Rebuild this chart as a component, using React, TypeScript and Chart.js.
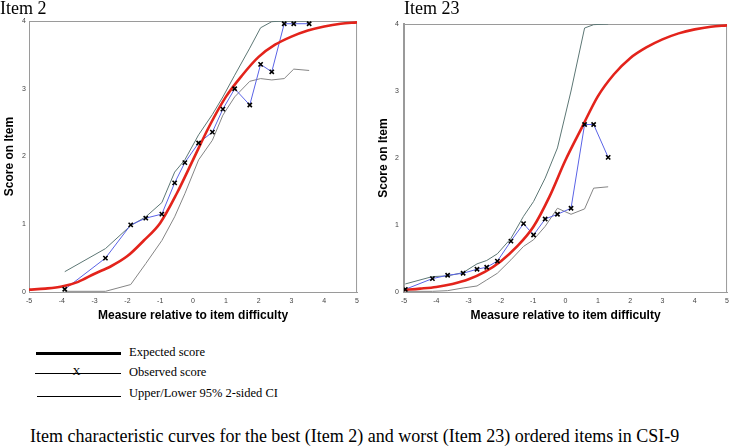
import React, { useEffect, useRef } from "react";
import { Chart, registerables } from "chart.js";

Chart.register(...registerables);

// ---- axis ticks ----
const X_TICKS = [-5, -4, -3, -2, -1, 0, 1, 2, 3, 4, 5];
const Y_TICKS = [0, 1, 2, 3, 4];

// ---- expected score curve sample points ----
const EXP_X = [-5, -4.5, -4, -3.5, -3, -2.5, -2, -1.5, -1, -0.5, 0, 0.5, 1, 1.5, 2, 2.5, 3, 3.5, 4, 4.5, 5];
const ITEM2_EXP_Y = [0.035, 0.05, 0.08, 0.15, 0.27, 0.38, 0.53, 0.76, 1.02, 1.45, 1.95, 2.45, 2.88, 3.2, 3.47, 3.65, 3.77, 3.86, 3.92, 3.96, 3.98];
const ITEM23_EXP_Y = [0.03, 0.05, 0.075, 0.12, 0.19, 0.3, 0.46, 0.68, 0.97, 1.42, 1.97, 2.45, 2.92, 3.25, 3.49, 3.65, 3.77, 3.86, 3.92, 3.96, 3.98];

// ---- Item 2 observed + CI ----
const ITEM2_OBS_X = [-3.91, -2.67, -1.9, -1.44, -0.95, -0.56, -0.25, 0.17, 0.59, 0.91, 1.27, 1.73, 2.06, 2.4, 2.78, 3.07, 3.54];
const ITEM2_OBS_Y = [0.04, 0.5, 0.99, 1.09, 1.15, 1.61, 1.91, 2.2, 2.36, 2.7, 3.0, 2.76, 3.36, 3.25, 3.96, 3.96, 3.96];
const ITEM2_UPPER_Y = [0.3, 0.64, 0.98, 1.11, 1.32, 1.77, 1.95, 2.32, 2.62, 2.88, 3.2, 3.6, 3.9, 3.99, 4.0, 4.0, 4.0];
const ITEM2_LOWER_Y = [0.01, 0.01, 0.11, 0.42, 0.76, 1.11, 1.45, 1.95, 2.24, 2.61, 2.88, 3.11, 3.15, 3.13, 3.15, 3.29, 3.27];

// ---- Item 23 observed + CI ----
const ITEM23_OBS_X = [-4.96, -4.12, -3.65, -3.17, -2.74, -2.44, -2.11, -1.69, -1.3, -0.99, -0.63, -0.25, 0.17, 0.59, 0.87, 1.32];
const ITEM23_OBS_Y = [0.04, 0.2, 0.25, 0.28, 0.34, 0.37, 0.46, 0.76, 1.02, 0.85, 1.09, 1.16, 1.25, 2.5, 2.5, 2.01];
const ITEM23_UPPER_Y = [0.12, 0.23, 0.24, 0.29, 0.42, 0.47, 0.57, 0.8, 1.13, 1.35, 1.7, 2.15, 3.0, 3.94, 3.99, 4.0];
const ITEM23_LOWER_Y = [0.01, 0.01, 0.02, 0.06, 0.09, 0.18, 0.28, 0.48, 0.68, 0.78, 0.98, 1.25, 1.16, 1.24, 1.55, 1.57];

const SANS = "'Liberation Sans', Arial, sans-serif";
const SERIF = "'Liberation Serif', 'Times New Roman', serif";

const boxPlugin = {
  id: "plotBox",
  beforeDatasetsDraw(chart: any) {
    const { ctx, chartArea } = chart;
    ctx.save();
    ctx.strokeStyle = "#9a9a9a";
    ctx.lineWidth = 1;
    ctx.beginPath();
    ctx.moveTo(chartArea.left, chartArea.top + 0.5);
    ctx.lineTo(chartArea.right - 0.5, chartArea.top + 0.5);
    ctx.lineTo(chartArea.right - 0.5, chartArea.bottom);
    ctx.stroke();
    ctx.restore();
  },
};

type Props = {
  expY: number[];
  obsX: number[];
  obsY: number[];
  upperY: number[];
  lowerY: number[];
  width: number;
  height: number;
  plotBottom: number;
  yAxisWidth: number;
  yTitlePad: number;
  yTickPad: number;
  topPad: number;
  rightPad: number;
  leftBorderWidth: number;
};

function IccChart(p: Props) {
  const ref = useRef<HTMLCanvasElement>(null);
  useEffect(() => {
    const pts = (xs: number[], ys: number[]) => xs.map((x, i) => ({ x, y: ys[i] }));
    const exp = pts(EXP_X, p.expY);
    const obs = pts(p.obsX, p.obsY);
    const up = pts(p.obsX, p.upperY);
    const low = pts(p.obsX, p.lowerY);
    const chart = new Chart(ref.current as HTMLCanvasElement, {
      type: "line",
      data: {
        datasets: [
          {
            label: "Observed markers",
            data: obs,
            showLine: false,
            pointStyle: "crossRot",
            pointRadius: 3,
            pointBorderColor: "#000",
            pointBackgroundColor: "#000",
            pointBorderWidth: 1.6,
            order: 0,
          },
          {
            label: "Expected score",
            data: exp,
            borderColor: "#e3231b",
            borderWidth: 2.6,
            pointRadius: 0,
            cubicInterpolationMode: "monotone",
            order: 1,
          },
          {
            label: "Observed score",
            data: obs,
            borderColor: "#5a63e6",
            borderWidth: 1,
            pointRadius: 0,
            order: 2,
          },
          {
            label: "Upper 95% CI",
            data: up,
            borderColor: "#5d7775",
            borderWidth: 1,
            pointRadius: 0,
            order: 3,
          },
          {
            label: "Lower 95% CI",
            data: low,
            borderColor: "#858585",
            borderWidth: 1,
            pointRadius: 0,
            order: 3,
          },
        ],
      } as any,
      options: {
        responsive: false,
        animation: false,
        devicePixelRatio: 1,
        layout: { padding: { top: p.topPad, right: p.rightPad, left: 0, bottom: 0 } },
        plugins: {
          legend: { display: false },
          tooltip: { enabled: false },
          title: { display: false },
        },
        scales: {
          x: {
            type: "linear",
            min: -5,
            max: 5,
            afterBuildTicks: (s: any) => {
              s.ticks = X_TICKS.map((v) => ({ value: v }));
            },
            afterFit: (s: any) => {
              s.height = p.height - p.plotBottom;
            },
            grid: { display: false, drawTicks: false },
            border: { display: true, color: "#9a9a9a", width: 1 },
            ticks: {
              padding: 5,
              color: "#444",
              font: { family: SANS, size: 7 },
              maxRotation: 0,
              autoSkip: false,
            },
            title: {
              display: true,
              text: "Measure relative to item difficulty",
              color: "#000",
              font: { family: SANS, size: 12, weight: "bold" },
              padding: { top: 0, bottom: 6.8 },
            },
          },
          y: {
            type: "linear",
            min: 0,
            max: 4,
            afterBuildTicks: (s: any) => {
              s.ticks = Y_TICKS.map((v) => ({ value: v }));
            },
            afterFit: (s: any) => {
              s.width = p.yAxisWidth;
            },
            grid: { display: false, drawTicks: false },
            border: { display: true, color: "#9a9a9a", width: p.leftBorderWidth },
            ticks: {
              padding: p.yTickPad,
              color: "#444",
              font: { family: SANS, size: 7 },
            },
            title: {
              display: true,
              text: "Score on Item",
              color: "#000",
              font: { family: SANS, size: 12, weight: "bold" },
              padding: { top: p.yTitlePad, bottom: 0 },
            },
          },
        },
      } as any,
      plugins: [boxPlugin],
    });
    return () => chart.destroy();
  }, []);
  return (
    <canvas
      ref={ref}
      width={p.width}
      height={p.height}
      style={{ width: p.width, height: p.height, display: "block" }}
    />
  );
}

const abs = (left: number, top: number, extra: React.CSSProperties = {}): React.CSSProperties => ({
  position: "absolute",
  left,
  top,
  whiteSpace: "nowrap",
  ...extra,
});

export default function App() {
  const titleStyle: React.CSSProperties = { fontFamily: SERIF, fontSize: 18, lineHeight: "18px", color: "#000" };
  const legendText: React.CSSProperties = { fontFamily: SERIF, fontSize: 12.5, lineHeight: "12.5px", color: "#000" };
  return (
    <div style={{ position: "absolute", left: 0, top: 0, width: 734, height: 447, background: "#fff", overflow: "hidden" }}>
      <div style={abs(0, 0)}>
        <IccChart
          expY={ITEM2_EXP_Y}
          obsX={ITEM2_OBS_X}
          obsY={ITEM2_OBS_Y}
          upperY={ITEM2_UPPER_Y}
          lowerY={ITEM2_LOWER_Y}
          width={364}
          height={330}
          plotBottom={292}
          yAxisWidth={29}
          yTitlePad={2.6}
          yTickPad={3}
          topPad={21}
          rightPad={4}
          leftBorderWidth={1}
        />
      </div>
      <div style={abs(364, 0)}>
        <IccChart
          expY={ITEM23_EXP_Y}
          obsX={ITEM23_OBS_X}
          obsY={ITEM23_OBS_Y}
          upperY={ITEM23_UPPER_Y}
          lowerY={ITEM23_LOWER_Y}
          width={370}
          height={330}
          plotBottom={292}
          yAxisWidth={40}
          yTitlePad={12.6}
          yTickPad={5}
          topPad={24}
          rightPad={2}
          leftBorderWidth={2}
        />
      </div>
      <div style={abs(0, -1, titleStyle)}>Item 2</div>
      <div style={abs(404, -1, titleStyle)}>Item 23</div>

      {/* legend */}
      <div style={abs(36, 352, { width: 85, height: 3, background: "#000" })} />
      <div style={abs(129, 345.5, legendText)}>Expected score</div>
      <div style={abs(35, 372.5, { width: 86, height: 1.5, background: "#000" })} />
      <div style={abs(72.5, 366, { fontFamily: SERIF, fontSize: 11, lineHeight: "11px", color: "#000" })}>X</div>
      <div style={abs(129, 366.2, legendText)}>Observed score</div>
      <div style={abs(37, 395.5, { width: 84, height: 1, background: "#000" })} />
      <div style={abs(129, 386.8, legendText)}>Upper/Lower 95% 2-sided CI</div>

      {/* caption */}
      <div style={abs(30, 426.9, { fontFamily: SERIF, fontSize: 18, lineHeight: "18px", color: "#000" })}>
        Item characteristic curves for the best (Item 2) and worst (Item 23) ordered items in CSI-9
      </div>
    </div>
  );
}
